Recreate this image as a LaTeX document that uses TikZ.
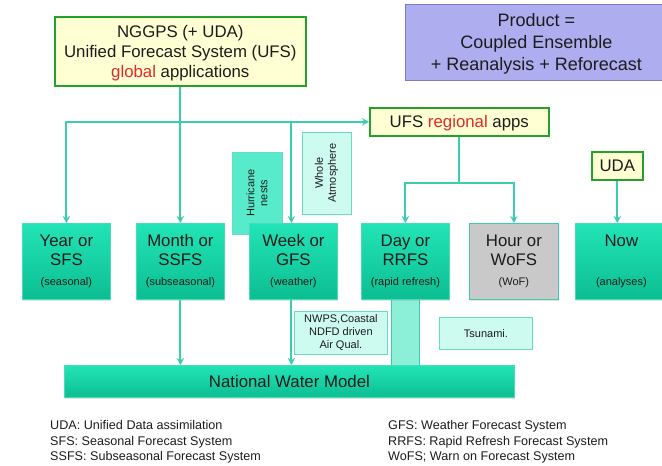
\documentclass[tikz,border=0pt]{standalone}
\usepackage{fontspec}
\setmainfont{Liberation Sans}
\usetikzlibrary{arrows.meta,shadows}
\definecolor{txt}{HTML}{1C1C1C}
\definecolor{redT}{HTML}{E02A2A}
\definecolor{grnB}{HTML}{24A02C}
\definecolor{yelF}{HTML}{FFFFD4}
\definecolor{lavF}{HTML}{ADADF0}
\definecolor{lavB}{HTML}{7C7CCC}
\definecolor{lineC}{HTML}{3CCDB0}
\definecolor{tealT}{HTML}{22E4B6}
\definecolor{tealBot}{HTML}{0CBE92}
\definecolor{tealB}{HTML}{48DDB8}
\definecolor{grayF}{HTML}{C9C9C9}
\definecolor{hurF}{HTML}{58EBCB}
\definecolor{paleF}{HTML}{CDFBF0}
\definecolor{paleB}{HTML}{66DCC4}
\definecolor{barF}{HTML}{8CF0D8}
\newcommand\bxt[3]{#1\\#2\\[2pt]{\fontsize{11}{13}\selectfont #3}}
\begin{document}
\begin{tikzpicture}[x=1pt,y=-1pt,
  base/.style={anchor=north west, inner sep=0pt, align=center, text=txt},
  shad/.style={drop shadow={shadow xshift=0.8pt,shadow yshift=-1.5pt,opacity=0.22}},
  yelbox/.style={base, draw=grnB, line width=1.6pt, fill=yelF, text depth=0pt, font=\fontsize{16.8}{20}\selectfont},
  tealbox/.style={base, shad, draw=tealB, line width=0.8pt, top color=tealT, bottom color=tealBot,
     minimum width=88pt, minimum height=76pt, font=\fontsize{16.8}{18.5}\selectfont},
  graybox/.style={tealbox, fill=grayF, top color=grayF, bottom color=grayF, draw=lineC},
  palebox/.style={base, draw=paleB, line width=0.8pt, fill=paleF, font=\fontsize{11}{13}\selectfont},
  hurbox/.style={palebox, fill=hurF, draw=paleB},
  legend/.style={anchor=west, align=left, inner sep=0pt, text=txt, font=\fontsize{12.6}{15.5}\selectfont},
  conn/.style={draw=lineC, line width=2pt},
  arr/.style={conn, -{Stealth[length=7pt,width=7.5pt]}},
  arr2/.style={conn, {Stealth[length=7pt,width=7.5pt]}-{Stealth[length=7pt,width=7.5pt]}}
]
\useasboundingbox (0,0) rectangle (662,466);
\clip (0,0) rectangle (662,466);

% top boxes
\node[yelbox, minimum width=251pt, minimum height=69pt] (nggps) at (54,16)
  {NGGPS (+ UDA)\\Unified Forecast System (UFS)\\\textcolor{redT}{global} applications};
\node[base, draw=lavB, line width=0.8pt, fill=lavF, text depth=0pt, minimum width=262pt, minimum height=76pt,
  font=\fontsize{18}{22}\selectfont] (prod) at (405,4)
  {Product =\\Coupled Ensemble\\+ Reanalysis + Reforecast};
\node[yelbox, minimum width=179pt, minimum height=28pt] (ufsr) at (369,107)
  {UFS \textcolor{redT}{regional} apps};
\node[yelbox, minimum width=51pt, minimum height=28pt] (uda) at (591,151) {UDA};

% side boxes
\node[hurbox, rotate=90, anchor=center, minimum width=82pt, minimum height=50pt] (hur) at (257,193)
  {Hurricane\\nests};
\node[palebox, rotate=90, anchor=center, minimum width=82pt, minimum height=49pt] (whole) at (326.5,173)
  {Whole\\Atmosphere};

% vertical bar (behind)
\node[base, draw=lineC, line width=0.8pt, fill=barF, minimum width=28pt, minimum height=66pt] (bar) at (391,299) {};

% row of boxes
\node[tealbox] (year) at (22,223) {\bxt{Year or}{SFS}{(seasonal)}};
\node[tealbox] (month) at (136,223) {\bxt{Month or}{SSFS}{(subseasonal)}};
\node[tealbox] (week) at (249,223) {\bxt{Week or}{GFS}{(weather)}};
\node[tealbox] (day) at (361,223) {\bxt{Day or}{RRFS}{(rapid refresh)}};
\node[graybox, minimum width=89pt] (hour) at (469,223) {\bxt{Hour or}{WoFS}{(WoF)}};
\node[tealbox, minimum width=92pt] (now) at (575,223) {\bxt{Now}{\mbox{}}{(analyses)}};

% lower boxes
\node[palebox, minimum width=93pt, minimum height=43pt] (nwps) at (294,311)
  {NWPS,Coastal\\NDFD driven\\Air Qual.};
\node[palebox, minimum width=93pt, minimum height=32pt] (tsu) at (439,317) {Tsunami.};
\node[tealbox, minimum width=450pt, minimum height=32pt] (nwm) at (64,365) {National Water Model};

% legend
\node[legend] (legL) at (50,442)
  {UDA: Unified Data assimilation\\SFS: Seasonal Forecast System\\SSFS: Subseasonal Forecast System};
\node[legend] (legR) at (388,442)
  {GFS: Weather Forecast System\\RRFS: Rapid Refresh Forecast System\\WoFS; Warn on Forecast System};

% connectors
\coordinate (wk) at ([xshift=-2pt]week.north);
\coordinate (wks) at ([xshift=-2pt]week.south);
\draw[arr2] (year.north) |- (ufsr.west);
\draw[arr] (nggps.south) -- (nggps.south |- month.north);
\draw[arr] (wk |- ufsr.west) -- (wk);
\path (ufsr.south) ++(0,46) coordinate (sp);
\draw[conn] (ufsr.south) -- (sp);
\draw[arr] (sp) -| (day.north);
\draw[arr] (sp) -| (hour.north);
\draw[arr] (uda.south) -- (uda.south |- now.north);
\draw[arr] (month.south) -- (month.south |- nwm.north);
\draw[arr] (wks) -- (wks |- nwm.north);
\end{tikzpicture}
\end{document}
